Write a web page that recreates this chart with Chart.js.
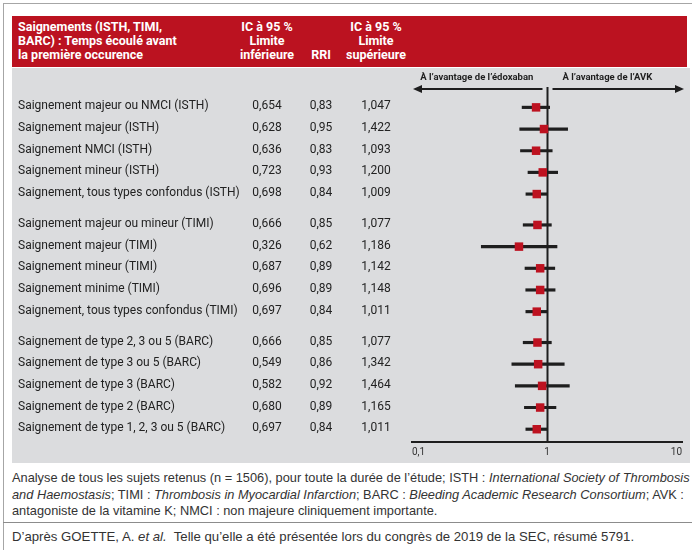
<!DOCTYPE html>
<html lang="fr">
<head>
<meta charset="utf-8">
<script src="https://cdn.jsdelivr.net/npm/chart.js@4"></script>
<style>
  body { margin: 0; background: #fff; }
  #page { position: relative; width: 692px; height: 550px; overflow: hidden; font-family: Roboto, sans-serif; }
  .line { position: absolute; background: #a6a6a6; }
  #head { position: absolute; left: 12px; top: 16px; width: 675px; height: 51px; background: #bb1220; color: #fff; font-weight: bold; font-size: 12.5px; line-height: 14px; }
  #head div { position: absolute; top: 4px; white-space: nowrap; }
  #head .col { width: 90px; text-align: center; }
  #panel { position: absolute; left: 12px; top: 68px; width: 678px; height: 395px; background: #dbdcde; }
  #forest { position: absolute; left: 12px; top: 68px; }
  #notes { position: absolute; left: 12px; top: 470px; font-family: 'Liberation Sans', Arial, sans-serif; font-size: 12.8px; line-height: 16.5px; color: #333; white-space: nowrap; }
  #source { position: absolute; left: 12px; top: 529px; font-family: 'Liberation Sans', Arial, sans-serif; font-size: 13.2px; line-height: 16px; color: #333; white-space: nowrap; }
</style>
</head>
<body>
<div id="page">
  <div class="line" style="left:3px;top:3px;width:689px;height:1px"></div>
  <div class="line" style="left:3px;top:3px;width:1px;height:547px"></div>
  <div id="head">
    <div style="left:6px">Saignements (ISTH, TIMI,<br>BARC) : Temps écoulé avant<br>la première occurence</div>
    <div class="col" style="left:210px">IC à 95 %<br>Limite<br>inférieure</div>
    <div class="col" style="left:264px;top:32px">RRI</div>
    <div class="col" style="left:319px">IC à 95 %<br>Limite<br>supérieure</div>
  </div>
  <div id="panel"></div>
  <canvas id="forest" width="678" height="395"></canvas>
  <div id="notes">Analyse de tous les sujets retenus (n = 1506), pour toute la durée de l’étude; ISTH : <i>International Society of Thrombosis</i><br><i>and Haemostasis</i>; TIMI : <i>Thrombosis in Myocardial Infarction</i>; BARC : <i>Bleeding Academic Research Consortium</i>; AVK :<br>antagoniste de la vitamine K; NMCI : non majeure cliniquement importante.</div>
  <div class="line" style="left:3px;top:522px;width:689px;height:1px;background:#8c8c8c"></div>
  <div id="source">D’après GOETTE, A. <i>et al.</i>&nbsp; Telle qu’elle a été présentée lors du congrès de 2019 de la SEC, résumé 5791.</div>
</div>
<script>
const categories = [
  'Saignement majeur ou NMCI (ISTH)',
  'Saignement majeur (ISTH)',
  'Saignement NMCI (ISTH)',
  'Saignement mineur (ISTH)',
  'Saignement, tous types confondus (ISTH)',
  'Saignement majeur ou mineur (TIMI)',
  'Saignement majeur (TIMI)',
  'Saignement mineur (TIMI)',
  'Saignement minime (TIMI)',
  'Saignement, tous types confondus (TIMI)',
  'Saignement de type 2, 3 ou 5 (BARC)',
  'Saignement de type 3 ou 5 (BARC)',
  'Saignement de type 3 (BARC)',
  'Saignement de type 2 (BARC)',
  'Saignement de type 1, 2, 3 ou 5 (BARC)'
];
const groups = [0,0,0,0,0, 1,1,1,1,1, 2,2,2,2,2];
const lowerCI = [0.654,0.628,0.636,0.723,0.698, 0.666,0.326,0.687,0.696,0.697, 0.666,0.549,0.582,0.680,0.697];
const rri     = [0.83,0.95,0.83,0.93,0.84, 0.85,0.62,0.89,0.89,0.84, 0.85,0.86,0.92,0.89,0.84];
const upperCI = [1.047,1.422,1.093,1.200,1.009, 1.077,1.186,1.142,1.148,1.011, 1.077,1.342,1.464,1.165,1.011];
const xTicks = [0.1, 1, 10];
const xTickLabels = ['0,1', '1', '10'];
const leftLabel = 'À l’avantage de l’édoxaban';
const rightLabel = 'À l’avantage de l’AVK';

// row position: index plus a small gap between groups
const GROUP_GAP = 0.425;
const rowPos = categories.map((c, i) => i + groups[i] * GROUP_GAP);
const fr = (v, d) => v.toFixed(d).replace('.', ',');

const ink = '#1e1e1e';
const red = '#bd1220';

const forestDecor = {
  id: 'forestDecor',
  beforeDatasetsDraw(chart) {
    const {ctx, chartArea: a, scales: {x}} = chart;
    const x1 = Math.round(x.getPixelForValue(1)) + 0.5;
    ctx.save();
    ctx.strokeStyle = ink;
    ctx.lineWidth = 2;
    ctx.beginPath();
    ctx.moveTo(x1, a.top);
    ctx.lineTo(x1, a.bottom);
    ctx.stroke();

    // arrows
    const ay = a.top + 2;
    ctx.beginPath();
    ctx.moveTo(x1 - 5, ay); ctx.lineTo(a.left + 6, ay);
    ctx.moveTo(x1 + 5, ay); ctx.lineTo(a.right - 4, ay);
    ctx.stroke();
    ctx.fillStyle = ink;
    ctx.beginPath();
    ctx.moveTo(a.left + 1, ay); ctx.lineTo(a.left + 10, ay - 4); ctx.lineTo(a.left + 10, ay + 4); ctx.closePath();
    ctx.moveTo(a.right + 2, ay); ctx.lineTo(a.right - 7, ay - 4); ctx.lineTo(a.right - 7, ay + 4); ctx.closePath();
    ctx.fill();

    ctx.font = 'bold 9.5px Roboto, sans-serif';
    ctx.textBaseline = 'middle';
    ctx.textAlign = 'center';
    ctx.fillText(leftLabel, (a.left + x1) / 2 - 3, a.top - 9);
    ctx.textAlign = 'left';
    ctx.fillText(rightLabel, x1 + 15, a.top - 9);
    ctx.restore();
  },
  afterDraw(chart) {
    const {ctx, scales: {y}} = chart;
    ctx.save();
    ctx.fillStyle = '#222';
    ctx.font = '12px Roboto, sans-serif';
    ctx.textBaseline = 'middle';
    categories.forEach((c, i) => {
      const py = y.getPixelForValue(rowPos[i]) - 1;
      ctx.textAlign = 'left';
      ctx.fillText(c, 6, py);
      ctx.textAlign = 'center';
      ctx.fillText(fr(lowerCI[i], 3), 255, py);
      ctx.fillText(fr(rri[i], 2), 309, py);
      ctx.fillText(fr(upperCI[i], 3), 364, py);
    });
    ctx.restore();
  }
};

new Chart(document.getElementById('forest'), {
  type: 'bar',
  data: {
    datasets: [
      {
        type: 'scatter',
        label: 'RRI',
        data: rri.map((v, i) => ({x: v, y: rowPos[i]})),
        pointStyle: 'rect',
        pointRadius: 6,
        pointBackgroundColor: red,
        pointBorderWidth: 0,
        order: 0
      },
      {
        type: 'bar',
        label: 'IC à 95 %',
        indexAxis: 'y',
        data: lowerCI.map((v, i) => ({x: [v, upperCI[i]], y: rowPos[i]})),
        backgroundColor: ink,
        barThickness: 2.5,
        order: 1
      }
    ]
  },
  options: {
    responsive: false,
    animation: false,
    indexAxis: 'y',
    layout: {padding: {left: 400, right: 8, top: 19, bottom: 6}},
    scales: {
      x: {
        type: 'logarithmic',
        position: 'bottom',
        min: 0.1,
        max: 10,
        offset: false,
        afterBuildTicks: s => { s.ticks = xTicks.map(v => ({value: v})); },
        afterFit: s => { s.height = 15; },
        grid: {display: false, drawTicks: false},
        border: {display: true, color: ink, width: 2},
        ticks: {
          callback: v => xTickLabels[xTicks.indexOf(v)],
          align: 'inner',
          padding: 4,
          maxRotation: 0,
          autoSkip: false,
          color: '#333',
          font: {family: 'Roboto, sans-serif', size: 10}
        }
      },
      y: {
        type: 'linear',
        display: false,
        reverse: true,
        offset: false,
        grid: {offset: false},
        min: -0.94,
        max: 15.44
      }
    },
    plugins: {legend: {display: false}, tooltip: {enabled: false}}
  },
  plugins: [forestDecor]
});
</script>
</body>
</html>
